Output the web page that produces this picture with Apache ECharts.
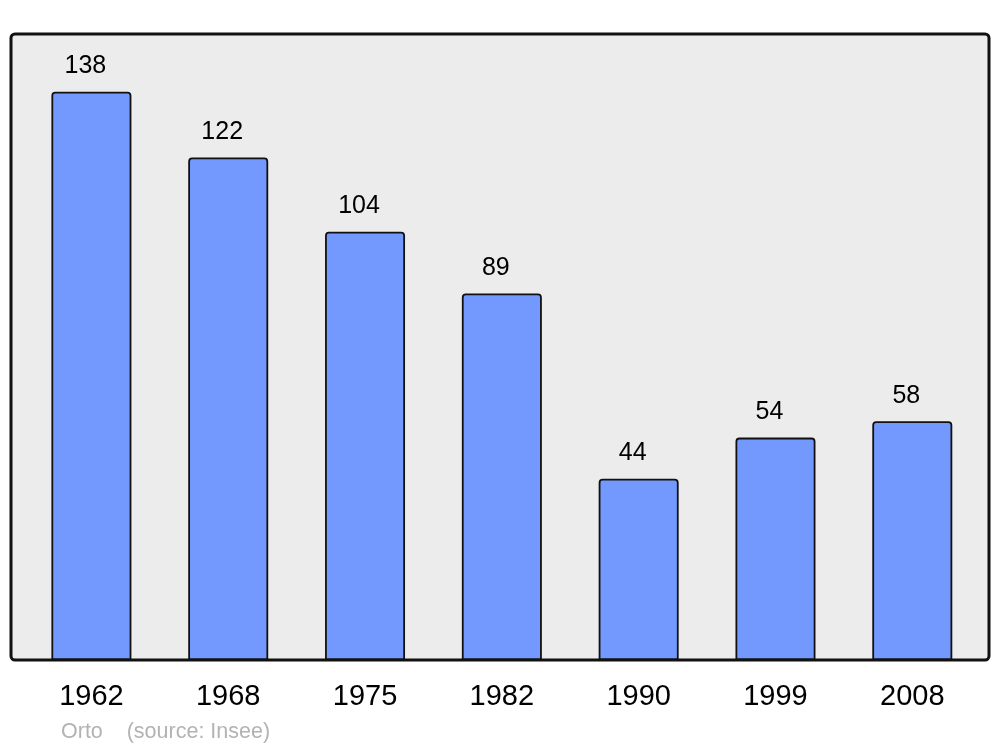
<!DOCTYPE html>
<html>
<head>
<meta charset="utf-8">
<script src="https://cdn.jsdelivr.net/npm/echarts@6/dist/echarts.min.js"></script>
<style>html,body{margin:0;padding:0;background:#fff}#c{width:1000px;height:747px}</style>
</head>
<body>
<div id="c"></div>
<script>
const years = ['1962', '1968', '1975', '1982', '1990', '1999', '2008'];
const population = [138, 122, 104, 89, 44, 54, 58];
const sourceText = 'Orto    (source: Insee)';

const FONT = 'Liberation Sans, Arial, sans-serif';
const chart = echarts.init(document.getElementById('c'), null, {renderer: 'canvas'});
chart.setOption({
  animation: false,
  backgroundColor: '#ffffff',
  textStyle: {fontFamily: FONT},
  title: {
    text: sourceText,
    left: 61,
    top: 721,
    padding: 0,
    textStyle: {fontSize: 21.5, fontWeight: 'normal', color: '#b3b3b3', fontFamily: FONT}
  },
  graphic: [{
    type: 'rect',
    z: -10,
    silent: true,
    shape: {x: 11, y: 34, width: 978, height: 626, r: 4},
    style: {fill: '#ececec', stroke: '#111111', lineWidth: 3}
  }],
  grid: {left: 23, right: 19.3, top: 34, bottom: 87, containLabel: false},
  xAxis: {
    type: 'category',
    data: years,
    axisLine: {show: false},
    axisTick: {show: false},
    axisLabel: {fontSize: 29, color: '#000', margin: 22, fontFamily: FONT}
  },
  yAxis: {
    type: 'value',
    min: 0,
    max: 152,
    show: false,
    splitLine: {show: false}
  },
  series: [{
    type: 'bar',
    data: population,
    barWidth: 80,
    itemStyle: {color: '#7399ff', borderColor: '#111111', borderWidth: 1.8, borderRadius: [3, 3, 0, 0]},
    label: {
      show: true,
      position: 'top',
      distance: 13,
      offset: [-6, 0],
      fontSize: 25,
      color: '#000',
      fontFamily: FONT
    }
  }]
});
</script>
</body>
</html>
